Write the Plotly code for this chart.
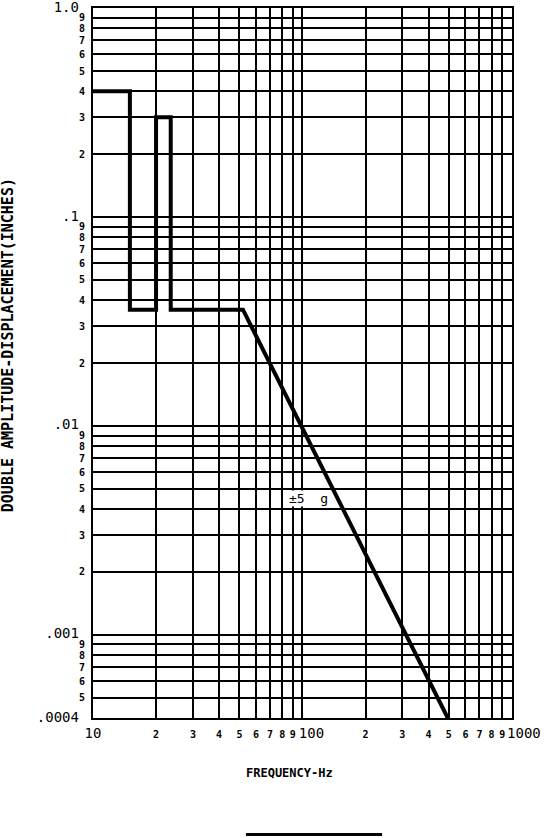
import math
import plotly.graph_objects as go

# displacement curve (Hz, inches double amplitude)
freq = [10, 15, 15, 20, 20, 23.5, 23.5, 52, 494]
disp = [0.4, 0.4, 0.036, 0.036, 0.3, 0.3, 0.036, 0.036, 0.0004]

x_ticks = [10, 20, 30, 40, 50, 60, 70, 80, 90,
           100, 200, 300, 400, 500, 600, 700, 800, 900, 1000]
x_labels = ["10", "2", "3", "4", "5", "6", "7", "8", "9",
            "100", "2", "3", "4", "5", "6", "7", "8", "9", "1000"]

y_ticks = [1.0, 0.9, 0.8, 0.7, 0.6, 0.5, 0.4, 0.3, 0.2,
           0.1, 0.09, 0.08, 0.07, 0.06, 0.05, 0.04, 0.03, 0.02,
           0.01, 0.009, 0.008, 0.007, 0.006, 0.005, 0.004, 0.003, 0.002,
           0.001, 0.0009, 0.0008, 0.0007, 0.0006, 0.0005, 0.0004]
y_labels = ["1.0", "9", "8", "7", "6", "5", "4", "3", "2",
            ".1", "9", "8", "7", "6", "5", "4", "3", "2",
            ".01", "9", "8", "7", "6", "5", "4", "3", "2",
            ".001", "9", "8", "7", "6", "5", ".0004"]

big = {"10", "100", "1000", "1.0", ".1", ".01", ".001", ".0004"}
x_shift = {"100": "&nbsp;&nbsp;&nbsp;", "1000": "&nbsp;&nbsp;&nbsp;&nbsp;"}


def fmt(t, pre="", post=""):
    if t in big:
        return (pre + "<span style='font-size:14px;font-weight:normal'>" + t
                + "</span>" + post)
    return t


FONT = "DejaVu Sans Mono"

fig = go.Figure()
fig.add_trace(go.Scatter(x=freq, y=disp, mode="lines",
                         line=dict(color="black", width=4), showlegend=False))

axis_common = dict(type="log", showgrid=True, gridcolor="black", gridwidth=2,
                   showline=True, mirror=True, linecolor="black", linewidth=2,
                   ticks="", zeroline=False, automargin=False, tickangle=0,
                   tickfont=dict(family=FONT, size=10, color="black", weight="bold"))

fig.update_xaxes(range=[1, 3.0005], tickvals=x_ticks,
                 ticktext=[fmt(t, pre=x_shift.get(t, "")) for t in x_labels],
                 ticklabelstandoff=6, **axis_common)
fig.update_yaxes(range=[math.log10(0.0004), 0.0005], tickvals=y_ticks,
                 ticktext=[fmt(t, post="&nbsp;") for t in y_labels],
                 ticklabelstandoff=4, **axis_common)

fig.add_annotation(x=math.log10(107), y=math.log10(0.0045), text="\u00b15  g",
                   showarrow=False, font=dict(family=FONT, size=13, color="black"),
                   bgcolor="white", borderpad=0)
fig.add_annotation(xref="paper", yref="paper", x=0.47, y=-0.0775,
                   xanchor="center", yanchor="middle",
                   text="FREQUENCY-Hz", showarrow=False,
                   font=dict(family=FONT, size=12, color="black", weight="bold"))
fig.add_annotation(xref="paper", yref="paper", x=-0.203, y=0.525,
                   xanchor="center", yanchor="middle",
                   text="DOUBLE AMPLITUDE-DISPLACEMENT(INCHES)", textangle=-90,
                   showarrow=False,
                   font=dict(family=FONT, size=15, color="black", weight="bold"))
fig.add_shape(type="line", xref="paper", yref="paper", x0=0.365, x1=0.69,
              y0=-0.164, y1=-0.164, line=dict(color="black", width=3))

fig.update_layout(width=546, height=838, margin=dict(l=93, r=34, t=8, b=120),
                  plot_bgcolor="white", paper_bgcolor="white")

fig.write_html("out.html", config={"displayModeBar": False},
               post_script="document.body.style.margin='0';")
